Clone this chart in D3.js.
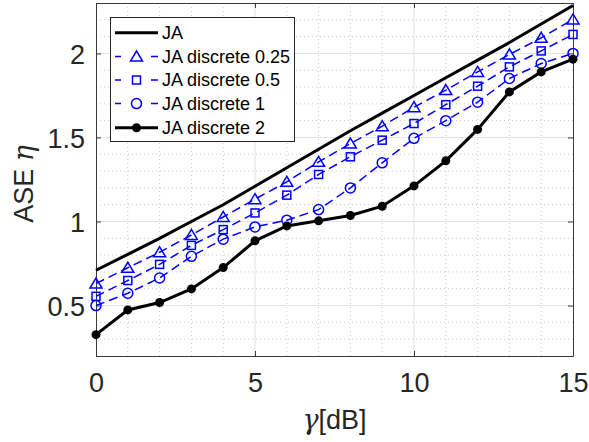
<!DOCTYPE html>
<html><head><meta charset="utf-8">
<script src="https://cdn.jsdelivr.net/npm/d3@7"></script>
<style>html,body{margin:0;padding:0;background:#fff;} svg{display:block;}</style>
</head><body>
<svg id="chart" width="589" height="442"></svg>
<script>
const gamma = [0,1,2,3,4,5,6,7,8,9,10,11,12,13,14,15];
const ja    = [0.71,0.805,0.90,1.00,1.10,1.21,1.32,1.43,1.54,1.645,1.75,1.855,1.96,2.065,2.175,2.285];
const d025  = [0.631,0.725,0.817,0.92,1.027,1.133,1.236,1.355,1.464,1.567,1.68,1.782,1.89,1.994,2.093,2.202];
const d05   = [0.555,0.649,0.745,0.858,0.952,1.051,1.157,1.28,1.385,1.484,1.583,1.695,1.805,1.92,2.015,2.113];
const d1    = [0.5,0.573,0.664,0.793,0.895,0.968,1.008,1.071,1.2,1.349,1.495,1.6,1.71,1.851,1.94,2.0];
const d2    = [0.327,0.474,0.518,0.599,0.726,0.885,0.974,1.004,1.036,1.091,1.212,1.361,1.548,1.771,1.89,1.966];
const xTicks = [0,5,10,15];
const yTicks = [0.5,1,1.5,2];
const yTickLabels = ["0.5","1","1.5","2"];
const seriesNames = ["JA","JA discrete 0.25","JA discrete 0.5","JA discrete 1","JA discrete 2"];

const FONT = "'Liberation Sans', Arial, Helvetica, sans-serif";
const svg = d3.select("#chart");
const L = 96, R = 573, T = 3, B = 356;
const x = d3.scaleLinear().domain([0,15]).range([L,R]);
const y = d3.scaleLinear().domain([0.2,2.3]).range([B,T]);

// grid
const g = svg.append("g");
const minorX = d3.range(1,15).filter(v => v % 5 !== 0);
const minorY = d3.range(3,23).map(v => v/10).filter(v => Math.abs(v*2 - Math.round(v*2)) > 1e-6);
g.selectAll(".mx").data(minorX).join("line")
  .attr("x1", d => x(d)).attr("x2", d => x(d)).attr("y1", T).attr("y2", B)
  .attr("stroke", "#c8c8c8").attr("stroke-width", 1).attr("stroke-dasharray", "1,3");
g.selectAll(".my").data(minorY).join("line")
  .attr("y1", d => y(d)).attr("y2", d => y(d)).attr("x1", L).attr("x2", R)
  .attr("stroke", "#c8c8c8").attr("stroke-width", 1).attr("stroke-dasharray", "1,3");
g.selectAll(".gx").data(xTicks.slice(1,3)).join("line")
  .attr("x1", d => x(d)).attr("x2", d => x(d)).attr("y1", T).attr("y2", B)
  .attr("stroke", "#e2e2e2").attr("stroke-width", 1);
g.selectAll(".gy").data(yTicks).join("line")
  .attr("y1", d => y(d)).attr("y2", d => y(d)).attr("x1", L).attr("x2", R)
  .attr("stroke", "#e2e2e2").attr("stroke-width", 1);

// axes
const axB = svg.append("g").attr("transform", `translate(0,${B})`)
  .call(d3.axisBottom(x).tickValues(xTicks).tickSize(-5).tickPadding(17).tickFormat(d3.format("d")));
const axT = svg.append("g").attr("transform", `translate(0,${T})`)
  .call(d3.axisTop(x).tickValues(xTicks).tickSize(-5).tickFormat(""));
const axL = svg.append("g").attr("transform", `translate(${L},0)`)
  .call(d3.axisLeft(y).tickValues(yTicks).tickSize(-5).tickPadding(11).tickFormat((d,i) => yTickLabels[i]));
const axR = svg.append("g").attr("transform", `translate(${R},0)`)
  .call(d3.axisRight(y).tickValues(yTicks).tickSize(-5).tickFormat(""));
[axB,axT,axL,axR].forEach(a => {
  a.select(".domain").attr("stroke", "#3a3a3a").attr("stroke-width", 1);
  a.selectAll(".tick line").attr("stroke", "#3a3a3a");
  a.selectAll("text").attr("font-family", FONT).attr("font-size", 27).attr("fill", "#262626");
});
axL.selectAll("text").attr("dy", "0.36em");

// lines
const line = (vals) => d3.line().x((d,i) => x(gamma[i])).y(d => y(d))(vals);
const blue = "#0000ff";
svg.append("path").attr("d", line(ja)).attr("fill","none").attr("stroke","#000").attr("stroke-width",3);
[d025,d05,d1].forEach(s => {
  svg.append("path").attr("d", line(s)).attr("fill","none").attr("stroke",blue)
    .attr("stroke-width",1.5).attr("stroke-dasharray","9,5");
});
svg.append("path").attr("d", line(d2)).attr("fill","none").attr("stroke","#000").attr("stroke-width",3);

// markers
const triPath = "M0,-5.5L6,4.5L-6,4.5Z";
function drawMarker(sel, type) {
  if (type === "tri") sel.append("path").attr("d", triPath).attr("fill","none").attr("stroke",blue).attr("stroke-width",1.5);
  else if (type === "sq") sel.append("rect").attr("x",-4).attr("y",-4).attr("width",8).attr("height",8).attr("fill","none").attr("stroke",blue).attr("stroke-width",1.5);
  else if (type === "circ") sel.append("circle").attr("r",5).attr("fill","none").attr("stroke",blue).attr("stroke-width",1.5);
  else if (type === "dot") sel.append("circle").attr("r",4.5).attr("fill","#000");
}
const mk = [[d025,"tri"],[d05,"sq"],[d1,"circ"],[d2,"dot"]];
mk.forEach(([vals,type]) => {
  svg.append("g").selectAll("g").data(vals).join("g")
    .attr("transform", (d,i) => `translate(${x(gamma[i])},${y(d)})`)
    .each(function(){ drawMarker(d3.select(this), type); });
});

// legend
const lg = svg.append("g");
lg.append("rect").attr("x",110.5).attr("y",17.5).attr("width",184).attr("height",124)
  .attr("fill","#fff").attr("stroke","#262626").attr("stroke-width",1);
const rowsY = [32.7,56.5,80,103.6,127.8];
const types = [null,"tri","sq","circ","dot"];
seriesNames.forEach((name,i) => {
  const yy = rowsY[i];
  const row = lg.append("g");
  if (i === 0 || i === 4) {
    row.append("line").attr("x1",115).attr("x2",158).attr("y1",yy).attr("y2",yy).attr("stroke","#000").attr("stroke-width",3);
  } else {
    row.append("line").attr("x1",115).attr("x2",158).attr("y1",yy).attr("y2",yy).attr("stroke",blue)
      .attr("stroke-width",1.5).attr("stroke-dasharray","6,30,7");
  }
  if (types[i]) drawMarker(row.append("g").attr("transform",`translate(136.5,${yy})`), types[i]);
  row.append("text").attr("x",162).attr("y",yy).attr("dy","0.36em")
    .attr("font-family",FONT).attr("font-size",18).attr("fill","#000").text(name);
});

// axis labels
svg.append("text").attr("x",(L+R)/2).attr("y",429).attr("text-anchor","middle")
  .attr("font-family",FONT).attr("font-size",27).attr("fill","#262626")
  .html('<tspan font-family="DejaVu Serif, serif" font-style="italic">γ</tspan>[dB]');
svg.append("text").attr("transform","translate(33,184) rotate(-90)").attr("text-anchor","middle")
  .attr("font-family",FONT).attr("font-size",27).attr("fill","#262626")
  .html('ASE <tspan font-family="DejaVu Serif, serif" font-style="italic">η</tspan>');
</script>
</body></html>
